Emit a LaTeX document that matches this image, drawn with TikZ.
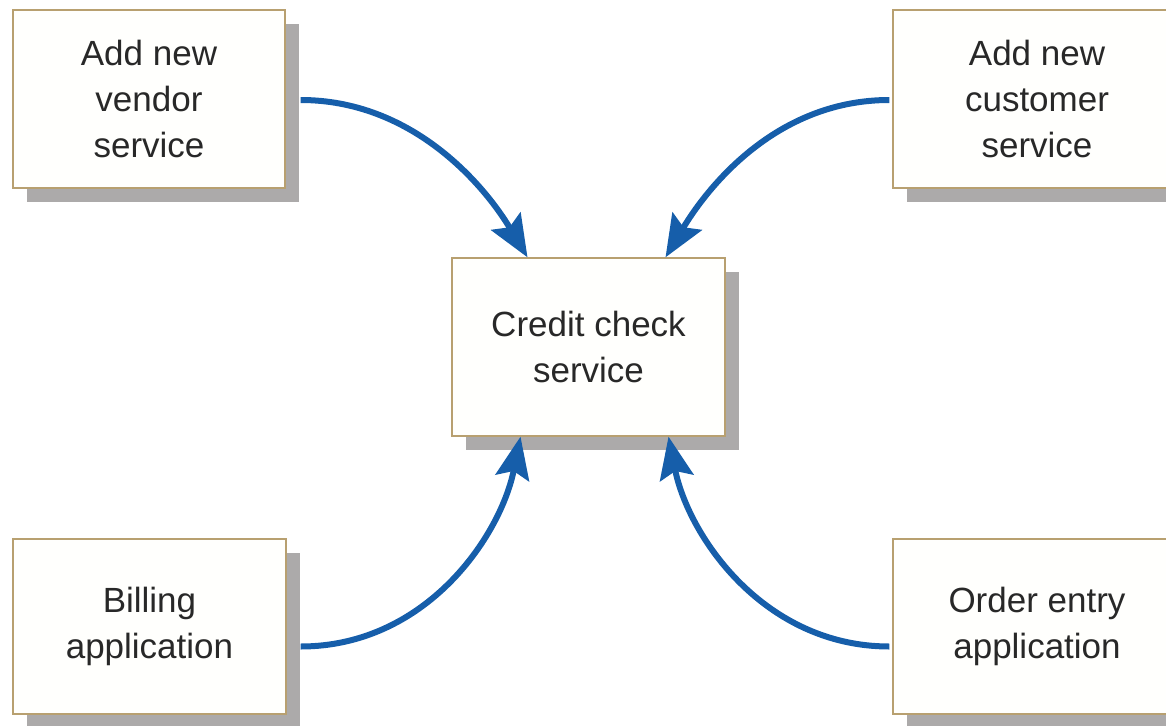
\documentclass[tikz,border=0pt]{standalone}
\usepackage{fontspec}
\setmainfont{Liberation Sans}
\usetikzlibrary{shadows,arrows.meta}
\definecolor{boxborder}{RGB}{184,160,112}
\definecolor{boxfill}{RGB}{255,255,253}
\definecolor{shadowc}{RGB}{172,170,170}
\definecolor{arrowc}{RGB}{22,94,170}
\definecolor{textc}{RGB}{40,40,40}
\tikzset{
  svcbox/.style={draw=boxborder, line width=1.3pt, fill=boxfill, rectangle,
    align=center, text=textc, inner sep=0pt,
    font=\fontsize{35}{46}\selectfont,
    drop shadow={shadow xshift=14pt, shadow yshift=-14pt, fill=shadowc, opacity=1}},
  flow/.style={draw=arrowc, line width=6pt,
    -{Stealth[length=42pt,width=34pt,inset=7pt]}}
}
\begin{document}
\begin{tikzpicture}[x=1pt,y=-1pt]
\useasboundingbox (0,0) rectangle (1166,725);
\node[svcbox, minimum width=272pt, minimum height=178pt] (v) at (149,99) {Add new\\vendor\\service};
\node[svcbox, minimum width=288pt, minimum height=178pt] (cu) at (1037,99) {Add new\\customer\\service};
\node[svcbox, minimum width=273pt, minimum height=178pt] (c) at (588.5,347) {Credit check\\service};
\node[svcbox, minimum width=273pt, minimum height=175pt] (b) at (149.5,626.5) {Billing\\application};
\node[svcbox, minimum width=288pt, minimum height=175pt] (o) at (1037,626.5) {Order entry\\application};

\draw[flow] ([xshift=15pt,yshift=-1pt]v.east) .. controls +(110,0) and +(-45,-75) .. ([xshift=-61pt]c.north);
\draw[flow] ([xshift=-3pt,yshift=-1pt]cu.west) .. controls +(-110,0) and +(45,-75) .. ([xshift=77pt]c.north);
\draw[flow] ([xshift=14pt,yshift=-20pt]b.east) .. controls +(125,0) and +(-20,100) .. ([xshift=-68pt]c.south);
\draw[flow] ([xshift=-3pt,yshift=-20pt]o.west) .. controls +(-125,0) and +(20,100) .. ([xshift=80pt]c.south);
\end{tikzpicture}
\end{document}
